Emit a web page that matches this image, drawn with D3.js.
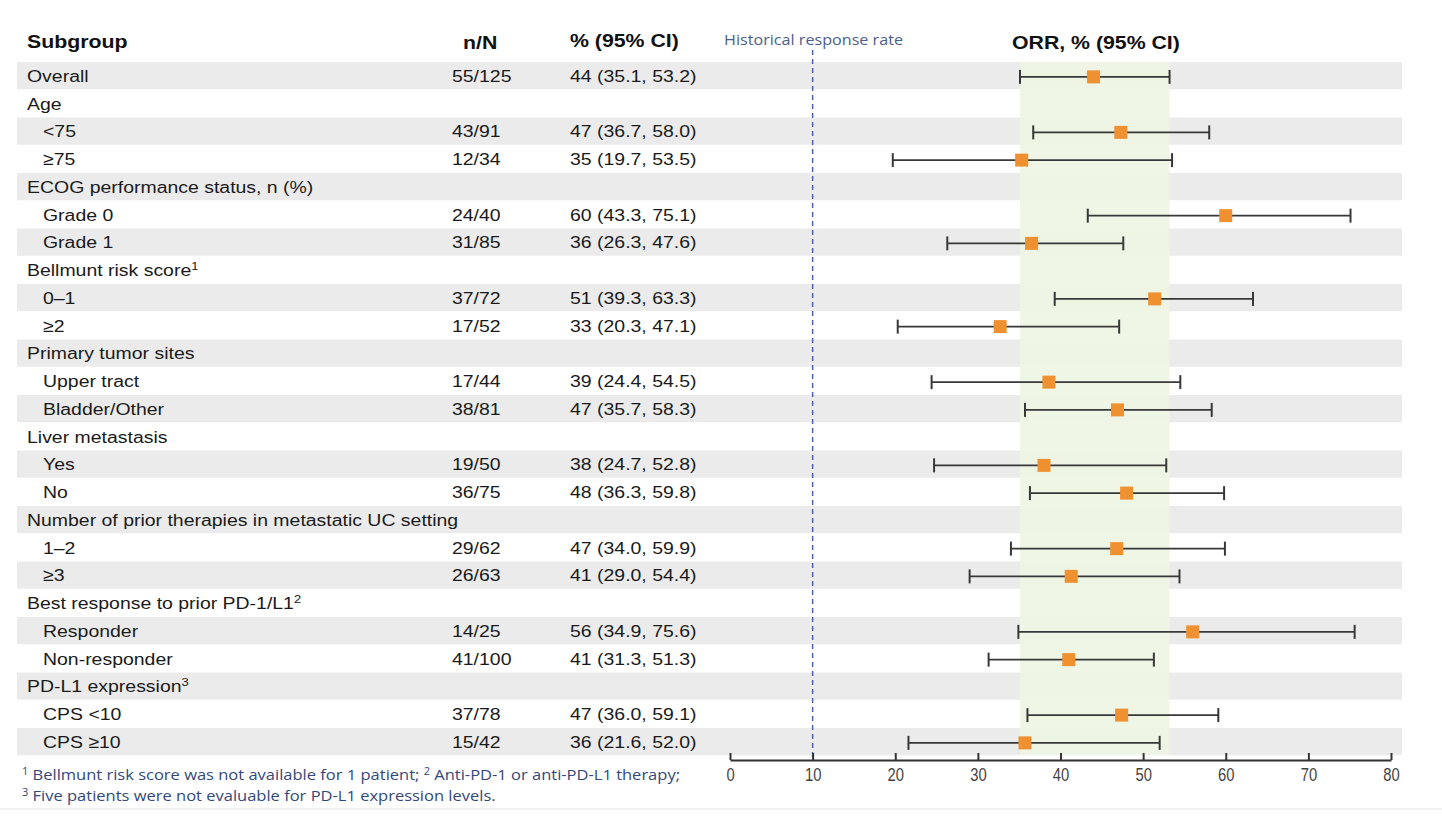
<!DOCTYPE html>
<html>
<head>
<meta charset="utf-8">
<script src="https://cdn.jsdelivr.net/npm/d3@7"></script>
<style>
  body { margin: 0; background: #fff; }
  svg text { font-family: "Liberation Sans", Arial, sans-serif; }
</style>
</head>
<body>
<div id="chart"></div>
<script>
// subgroup rows, top to bottom
var labels = ['Overall', 'Age', '<75', '\u226575', 'ECOG performance status, n (%)', 'Grade 0', 'Grade 1',
    'Bellmunt risk score', '0\u20131', '\u22652', 'Primary tumor sites', 'Upper tract', 'Bladder/Other',
    'Liver metastasis', 'Yes', 'No', 'Number of prior therapies in metastatic UC setting', '1\u20132', '\u22653',
    'Best response to prior PD-1/L1', 'Responder', 'Non-responder', 'PD-L1 expression', 'CPS <10', 'CPS \u226510'];
var sups = ['', '', '', '', '', '', '', '1', '', '', '', '', '', '', '', '', '', '', '', '2', '', '', '3', '', ''];
var indent = [0, 0, 1, 1, 0, 1, 1, 0, 1, 1, 0, 1, 1, 0, 1, 1, 0, 1, 1, 0, 1, 1, 0, 1, 1];
var nN = ['55/125', '', '43/91', '12/34', '', '24/40', '31/85', '', '37/72', '17/52', '', '17/44', '38/81',
    '', '19/50', '36/75', '', '29/62', '26/63', '', '14/25', '41/100', '', '37/78', '15/42'];
var ciText = ['44 (35.1, 53.2)', '', '47 (36.7, 58.0)', '35 (19.7, 53.5)', '', '60 (43.3, 75.1)', '36 (26.3, 47.6)',
    '', '51 (39.3, 63.3)', '33 (20.3, 47.1)', '', '39 (24.4, 54.5)', '47 (35.7, 58.3)', '', '38 (24.7, 52.8)',
    '48 (36.3, 59.8)', '', '47 (34.0, 59.9)', '41 (29.0, 54.4)', '', '56 (34.9, 75.6)', '41 (31.3, 51.3)',
    '', '47 (36.0, 59.1)', '36 (21.6, 52.0)'];
var est = [44.0, null, 47.3, 35.3, null, 60.0, 36.5, null, 51.4, 32.7, null, 38.6, 46.9, null, 38.0, 48.0,
    null, 46.8, 41.3, null, 56.0, 41.0, null, 47.4, 35.7];
var lo = [35.1, null, 36.7, 19.7, null, 43.3, 26.3, null, 39.3, 20.3, null, 24.4, 35.7, null, 24.7, 36.3,
    null, 34.0, 29.0, null, 34.9, 31.3, null, 36.0, 21.6];
var hi = [53.2, null, 58.0, 53.5, null, 75.1, 47.6, null, 63.3, 47.1, null, 54.5, 58.3, null, 52.8, 59.8,
    null, 59.9, 54.4, null, 75.6, 51.3, null, 59.1, 52.0];
var historicalRate = 10;
var xTicks = [0, 10, 20, 30, 40, 50, 60, 70, 80];

var rows = labels.map(function(l, i) {
    return { i: i, label: l, sup: sups[i], indent: indent[i], nN: nN[i], ci: ciText[i], est: est[i], lo: lo[i], hi: hi[i] };
});

// the source picture is a bit wider than it is tall, so widen the text to match
function stretch(sel, k) {
    sel.each(function() {
        var w = this.getComputedTextLength();
        if (w > 0) {
            d3.select(this).attr('textLength', w * k).attr('lengthAdjust', 'spacingAndGlyphs');
        }
    });
}

var svg = d3.select('#chart').append('svg')
    .attr('width', 1442)
    .attr('height', 828);

var x = d3.scaleLinear().domain([0, 80]).range([730, 1391]);
var y = d3.scaleBand().domain(d3.range(rows.length)).range([62, 755.75]).padding(0);
var h = y.bandwidth();

// zebra bands
svg.selectAll('rect.band')
    .data(rows.filter(function(d) { return d.i % 2 === 0; }))
    .enter().append('rect')
    .attr('class', 'band')
    .attr('x', 17).attr('width', 1385)
    .attr('y', function(d) { return y(d.i); })
    .attr('height', h - 0.5)
    .attr('fill', '#ebebeb');

// overall CI band
svg.append('rect')
    .attr('x', x(lo[0])).attr('width', x(hi[0]) - x(lo[0]))
    .attr('y', 62).attr('height', 755 - 62)
    .attr('fill', '#eef5e5')
    .attr('opacity', 0.95);

// headers
var head = svg.append('g').attr('font-weight', 'bold').attr('font-size', 18.5).attr('fill', '#111');
head.append('text').attr('x', 27).attr('y', 48).text('Subgroup');
head.append('text').attr('x', 463).attr('y', 49).text('n/N');
head.append('text').attr('x', 570).attr('y', 47).text('% (95% CI)');
head.append('text').attr('x', 1012).attr('y', 49).text('ORR, % (95% CI)');
stretch(head.selectAll('text'), 1.15);

svg.append('text')
    .attr('x', 724).attr('y', 45)
    .style('font-family', '"Open Sans", sans-serif')
    .style('font-size', '15px')
    .attr('fill', '#4a5e8e')
    .attr('textLength', 179).attr('lengthAdjust', 'spacingAndGlyphs')
    .text('Historical response rate');

// table text
var rowG = svg.selectAll('g.row')
    .data(rows)
    .enter().append('g')
    .attr('class', 'row')
    .attr('transform', function(d) { return 'translate(0,' + (y(d.i) + h / 2 + 6) + ')'; });

var lab = rowG.append('text')
    .attr('x', function(d) { return d.indent ? 43 : 27; })
    .attr('font-size', 17.3)
    .attr('fill', '#1a1a1a')
    .text(function(d) { return d.label; });
lab.filter(function(d) { return d.sup; })
    .append('tspan')
    .attr('font-size', 11.5)
    .attr('dy', -6)
    .text(function(d) { return d.sup; });

var nText = rowG.append('text')
    .attr('x', 452)
    .attr('font-size', 17.3)
    .attr('fill', '#1a1a1a')
    .text(function(d) { return d.nN; });

var cText = rowG.append('text')
    .attr('x', 570)
    .attr('font-size', 17.3)
    .attr('fill', '#1a1a1a')
    .text(function(d) { return d.ci; });

stretch(lab, 1.125);
stretch(nText, 1.125);
stretch(cText, 1.125);

// historical response rate line
svg.append('line')
    .attr('x1', x(historicalRate)).attr('x2', x(historicalRate))
    .attr('y1', 50).attr('y2', 760)
    .attr('stroke', '#4f5fb0')
    .attr('stroke-width', 1.5)
    .attr('stroke-dasharray', '5,4');

// whiskers and markers
var est_rows = rows.filter(function(d) { return d.est !== null; });
var cap = 7;
var forest = svg.selectAll('g.ci')
    .data(est_rows)
    .enter().append('g')
    .attr('class', 'ci')
    .attr('transform', function(d) { return 'translate(0,' + (y(d.i) + h / 2 + 1) + ')'; });

forest.append('line')
    .attr('x1', function(d) { return x(d.lo); })
    .attr('x2', function(d) { return x(d.hi); })
    .attr('stroke', '#383838').attr('stroke-width', 1.8);
forest.append('line')
    .attr('x1', function(d) { return x(d.lo); })
    .attr('x2', function(d) { return x(d.lo); })
    .attr('y1', -cap).attr('y2', cap)
    .attr('stroke', '#383838').attr('stroke-width', 2);
forest.append('line')
    .attr('x1', function(d) { return x(d.hi); })
    .attr('x2', function(d) { return x(d.hi); })
    .attr('y1', -cap).attr('y2', cap)
    .attr('stroke', '#383838').attr('stroke-width', 2);
forest.append('rect')
    .attr('x', function(d) { return x(d.est) - 6.5; })
    .attr('y', -6.5)
    .attr('width', 13).attr('height', 13)
    .attr('fill', '#ef9130');

// x axis
var axis = svg.append('g')
    .attr('transform', 'translate(0,760)')
    .call(d3.axisBottom(x).tickValues(xTicks).tickSize(-7).tickPadding(8).tickSizeOuter(0));
axis.attr('font-size', 18);
axis.select('.domain').attr('stroke', '#333').attr('stroke-width', 2);
axis.selectAll('.tick line').attr('stroke', '#333').attr('stroke-width', 2);
axis.selectAll('.tick text')
    .style('font-size', '18px')
    .attr('fill', '#444');
stretch(axis.selectAll('.tick text'), 0.82);

// footnotes
var foot = svg.append('g')
    .attr('fill', '#33487a');
var f1 = foot.append('text').attr('x', 22).attr('y', 780)
    .style('font-family', '"Open Sans", sans-serif').style('font-size', '15px');
f1.append('tspan').style('font-size', '10px').attr('dy', -5).text('1');
f1.append('tspan').attr('dy', 5).text(' Bellmunt risk score was not available for 1 patient; ');
f1.append('tspan').style('font-size', '10px').attr('dy', -5).text('2');
f1.append('tspan').attr('dy', 5).text(' Anti-PD-1 or anti-PD-L1 therapy;');
var f2 = foot.append('text').attr('x', 22).attr('y', 801)
    .style('font-family', '"Open Sans", sans-serif').style('font-size', '15px');
f2.append('tspan').style('font-size', '10px').attr('dy', -5).text('3');
f2.append('tspan').attr('dy', 5).text(' Five patients were not evaluable for PD-L1 expression levels.');
// squeeze both lines by the same factor so line 1 ends where it does in the source
var squeeze = 658 / f1.node().getComputedTextLength();
stretch(f1, squeeze);
stretch(f2, squeeze);

// faint bottom rule
svg.append('rect')
    .attr('x', 0).attr('y', 808).attr('width', 1442).attr('height', 2)
    .attr('fill', '#f0f0f0');
</script>
</body>
</html>
